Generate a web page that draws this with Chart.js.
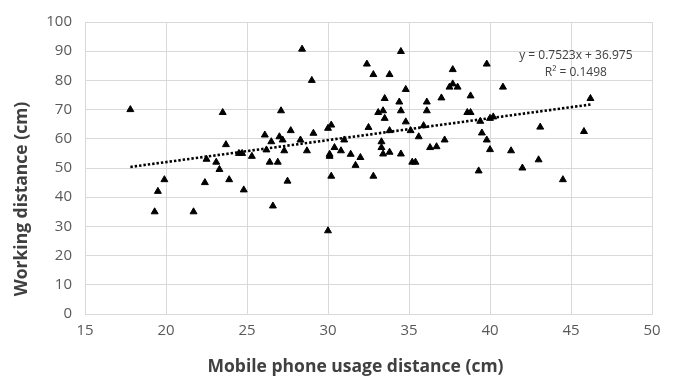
<!DOCTYPE html>
<html>
<head>
<meta charset="utf-8">
<script src="https://cdn.jsdelivr.net/npm/chart.js@4"></script>
<style>
  html, body { margin: 0; padding: 0; background: #fff; }
  #wrap { width: 675px; height: 378px; position: relative; }
</style>
</head>
<body>
<div id="wrap"><canvas id="c" width="675" height="378"></canvas></div>
<script>
// Mobile phone usage distance (cm)
const usageX = [
  17.8, 19.3, 19.5, 19.9, 21.7, 22.4, 22.5, 23.1, 23.3, 23.5,
  23.7, 23.9, 24.5, 24.7, 24.8, 25.3, 26.1, 26.2, 26.4, 26.5,
  26.6, 26.9, 27.0, 27.1, 27.2, 27.3, 27.5, 27.7, 28.3, 28.4,
  28.7, 29.0, 29.1, 30.0, 30.2, 30.0, 30.1, 30.1, 30.2, 30.4,
  30.8, 31.0, 31.4, 31.7, 32.0, 32.4, 32.5, 32.8, 32.8, 33.1,
  33.4, 33.5, 33.5, 33.8, 33.3, 33.3, 33.4, 33.8, 33.8, 34.4,
  34.5, 34.5, 34.5, 34.8, 34.8, 35.1, 35.2, 35.4, 35.6, 35.9,
  36.1, 36.1, 36.3, 36.7, 37.0, 37.2, 37.5, 37.7, 37.7, 38.0,
  38.6, 38.8, 38.8, 39.3, 39.4, 39.5, 39.8, 39.8, 40.0, 40.0,
  40.2, 40.8, 41.3, 42.0, 43.0, 43.1, 44.5, 45.8, 46.2
];
// Working distance (cm)
const workingY = [
  70, 35, 42, 46, 35, 45, 53, 52, 49.5, 69,
  58, 46, 55, 55, 42.5, 54, 61.3, 56.2, 52, 59,
  37, 52, 60.7, 69.6, 59.6, 55.9, 45.5, 62.8, 59.6, 90.7,
  55.9, 80, 61.9, 63.6, 64.7, 28.5, 54.7, 54, 47.2, 57,
  55.9, 59.6, 54.7, 50.9, 53.6, 85.6, 63.9, 82, 47.2, 69,
  69.6, 67, 73.8, 82, 59, 57, 54.8, 55.4, 62.8, 72.6,
  69.6, 89.9, 54.8, 76.9, 65.8, 62.8, 52, 52, 60.7, 64.5,
  72.6, 69.6, 57, 57.3, 74, 59.6, 77.7, 78.8, 83.7, 77.7,
  69, 69, 74.7, 49, 66, 62, 59.6, 85.6, 56.3, 67,
  67.5, 77.7, 55.9, 50, 52.8, 64, 46, 62.5, 73.8
];
// Trendline (Excel linear fit shown on chart)
const trendSlope = 0.7523;
const trendIntercept = 36.975;
const trendLabels = ["y = 0.7523x + 36.975", "R\u00b2 = 0.1498"];
const xTitle = "Mobile phone usage distance (cm)";
const yTitle = "Working distance (cm)";
const xTicks = [15, 20, 25, 30, 35, 40, 45, 50];
const yTicks = [0, 10, 20, 30, 40, 50, 60, 70, 80, 90, 100];

const points = usageX.map((x, i) => ({ x: x, y: workingY[i] }));
const xMin = Math.min(...usageX), xMax = Math.max(...usageX);
const trend = [
  { x: xMin, y: trendSlope * xMin + trendIntercept },
  { x: xMax, y: trendSlope * xMax + trendIntercept }
];

const FONT = "'Open Sans', 'Liberation Sans', sans-serif";

const textPlugin = {
  id: 'texts',
  afterDraw(chart) {
    const ctx = chart.ctx;
    const xs = chart.scales.x, ys = chart.scales.y;
    const ca = chart.chartArea;
    ctx.save();
    // trendline equation
    ctx.fillStyle = '#404040';
    ctx.font = "12px " + FONT;
    ctx.textAlign = 'center';
    ctx.textBaseline = 'middle';
    const cx = xs.getPixelForValue(45.3);
    ctx.fillText(trendLabels[0], cx, ys.getPixelForValue(88.5));
    ctx.fillText(trendLabels[1], cx, ys.getPixelForValue(82.8));
    // axis titles
    ctx.font = "bold 17.5px " + FONT;
    ctx.fillText(xTitle, (ca.left + ca.right) / 2 - 13, ca.bottom + 53);
    ctx.translate(22, (ca.top + ca.bottom) / 2 + 31);
    ctx.rotate(-Math.PI / 2);
    ctx.fillText(yTitle, 0, 0);
    ctx.restore();
  }
};

new Chart(document.getElementById('c'), {
  type: 'scatter',
  data: {
    datasets: [
      {
        label: 'Data',
        data: points,
        pointStyle: 'triangle',
        pointRadius: 4,
        backgroundColor: '#000',
        borderColor: '#000',
        borderWidth: 1
      },
      {
        type: 'line',
        label: 'Trend',
        data: trend,
        borderColor: '#000',
        borderWidth: 2.6,
        borderDash: [2.4, 2],
        pointRadius: 0,
        fill: false
      }
    ]
  },
  options: {
    responsive: false,
    animation: false,
    layout: { padding: { left: 0, right: 23, top: 19, bottom: 0 } },
    plugins: { legend: { display: false }, tooltip: { enabled: false } },
    scales: {
      x: {
        type: 'linear',
        min: 15, max: 50,
        afterBuildTicks(s) { s.ticks = xTicks.map(v => ({ value: v })); },
        afterFit(s) { s.height = 64; },
        grid: { color: '#d9d9d9', lineWidth: 1, drawTicks: false },
        border: { color: '#d9d9d9' },
        ticks: { color: '#595959', font: { family: FONT, size: 15 }, padding: 8, maxRotation: 0 },
        title: { display: false }
      },
      y: {
        type: 'linear',
        min: 0, max: 100,
        afterBuildTicks(s) { s.ticks = yTicks.map(v => ({ value: v })); },
        afterFit(s) { s.width = 85; },
        grid: { color: '#d9d9d9', lineWidth: 1, drawTicks: false },
        border: { color: '#d9d9d9' },
        ticks: { color: '#595959', font: { family: FONT, size: 15 }, padding: 13 },
        title: { display: false }
      }
    }
  },
  plugins: [textPlugin]
});
</script>
</body>
</html>
